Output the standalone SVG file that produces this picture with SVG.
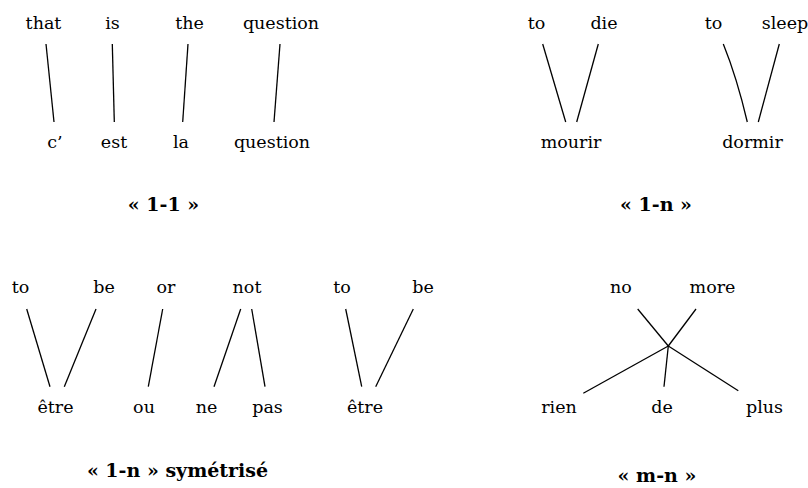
<svg xmlns="http://www.w3.org/2000/svg" width="808" height="488" viewBox="0 0 808 488">
<style>
text{fill:#000;text-anchor:middle}
.lbl{font-weight:bold}
.c line,.c path{stroke:#000;stroke-width:1.3;fill:none}
</style>
<rect width="808" height="488" fill="#fff"/>
<g font-family="'DejaVu Serif', serif" font-size="17.5">
<g id="en1"><text x="43.5" y="29">that</text><text x="112.5" y="29">is</text><text x="189.5" y="29">the</text><text x="281" y="29">question</text></g>
<g id="fr1"><text x="55" y="148">c’</text><text x="114" y="148">est</text><text x="181" y="148">la</text><text x="272" y="148">question</text></g>
<g id="en2"><text x="536.5" y="29">to</text><text x="604" y="29">die</text><text x="713.5" y="29">to</text><text x="785" y="29">sleep</text></g>
<g id="fr2"><text x="571" y="148">mourir</text><text x="752.5" y="148">dormir</text></g>
<g id="en3"><text x="20.5" y="293">to</text><text x="104" y="293">be</text><text x="166" y="293">or</text><text x="247" y="293">not</text><text x="342" y="293">to</text><text x="423" y="293">be</text></g>
<g id="fr3"><text x="55.5" y="413">être</text><text x="144" y="413">ou</text><text x="206.5" y="413">ne</text><text x="267.5" y="413">pas</text><text x="365" y="413">être</text></g>
<g id="en4"><text x="621" y="293">no</text><text x="712.5" y="293">more</text></g>
<g id="fr4"><text x="559" y="413">rien</text><text x="662" y="413">de</text><text x="764.5" y="413">plus</text></g>
<g id="labels" font-size="19">
<text class="lbl" x="163.5" y="211">« 1-1 »</text>
<text class="lbl" x="656" y="211">« 1-n »</text>
<text class="lbl" x="177.5" y="477">« 1-n » symétrisé</text>
<text class="lbl" x="657" y="482">« m-n »</text>
</g>
</g>
<g id="connectors" class="c">
<line x1="46" y1="44" x2="54" y2="122"/>
<line x1="112.3" y1="44" x2="114.3" y2="122"/>
<line x1="188" y1="44" x2="182.7" y2="122"/>
<line x1="280" y1="44" x2="274" y2="122"/>
<line x1="542.7" y1="44" x2="565.7" y2="122"/>
<line x1="598.3" y1="44" x2="576.7" y2="122"/>
<path d="M723.3,44 Q737,78 747.3,122"/>
<line x1="779.3" y1="44" x2="758.3" y2="122"/>
<line x1="26.7" y1="309" x2="50" y2="386.7"/>
<line x1="96" y1="309" x2="64.3" y2="386.7"/>
<line x1="162.7" y1="309" x2="148.3" y2="386.7"/>
<line x1="240.7" y1="309" x2="214" y2="386.7"/>
<line x1="251.7" y1="309" x2="265" y2="386.7"/>
<line x1="345.7" y1="309" x2="361.7" y2="386.7"/>
<line x1="413.3" y1="309" x2="375.7" y2="386.7"/>
<line x1="637.7" y1="309" x2="668.3" y2="346"/>
<line x1="696" y1="309" x2="668.3" y2="346"/>
<line x1="668.3" y1="346" x2="583.3" y2="393.3"/>
<line x1="668.3" y1="346" x2="664" y2="386.7"/>
<line x1="668.3" y1="346" x2="738.3" y2="390.7"/>
</g>
</svg>
